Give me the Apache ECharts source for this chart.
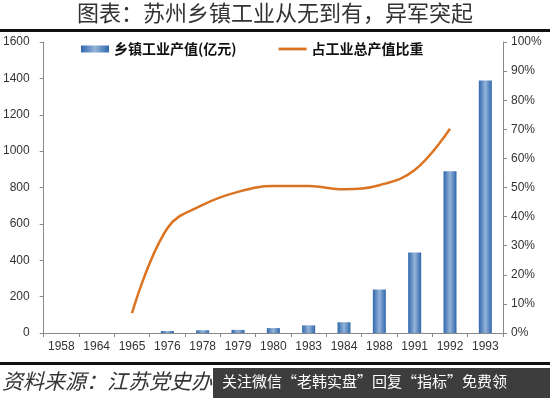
<!DOCTYPE html>
<html>
<head>
<meta charset="utf-8">
<script src="https://cdn.jsdelivr.net/npm/echarts@6/dist/echarts.min.js"></script>
<style>
html, body { margin: 0; padding: 0; background: #fff; }
#main { width: 550px; height: 398px; }
</style>
</head>
<body>
<div id="main"></div>
<script>
var years = ['1958', '1964', '1965', '1976', '1978', '1979', '1980', '1983', '1984', '1988', '1991', '1992', '1993'];
var outputValue = [0, 0, 0, 11, 15, 17, 27, 42, 59, 239, 443, 889, 1388];
var sharePct = [null, null, 6.8, 36, 44, 48.5, 50.5, 50.5, 49.4, 50.8, 56, 70.2, null];
var leftTicks = [0, 1600, 200];
var rightTicks = [0, 100, 10];

var chart = echarts.init(document.getElementById('main'));
var font = '"Noto Sans CJK SC", "Noto Sans", sans-serif';
var option = {
    animation: false,
    textStyle: { fontFamily: font },
    grid: { left: 43, right: 47, top: 42, bottom: 65 },
    legend: {
        top: 37,
        left: 76,
        itemGap: 42,
        itemWidth: 28,
        itemHeight: 7,
        textStyle: { fontSize: 14, fontWeight: 'bold', color: '#111' },
        data: [
            { name: '乡镇工业产值(亿元)', icon: 'rect' },
            { name: '占工业总产值比重', icon: 'path://M0,0h30v3h-30z' }
        ]
    },
    xAxis: {
        type: 'category',
        data: years,
        axisLine: { lineStyle: { color: '#888' } },
        axisTick: { show: true, length: 4, lineStyle: { color: '#888' } },
        axisLabel: { color: '#333', fontSize: 12, margin: 8, fontFamily: 'Liberation Sans' }
    },
    yAxis: [
        {
            type: 'value',
            min: leftTicks[0], max: leftTicks[1], interval: leftTicks[2],
            splitLine: { show: false },
            axisLine: { show: true, lineStyle: { color: '#888' } },
            axisTick: { show: true, length: 4, lineStyle: { color: '#888' } },
            axisLabel: { color: '#333', fontSize: 12, margin: 14, fontFamily: 'Liberation Sans',
                formatter: function (v) { return String(v); } }
        },
        {
            type: 'value',
            min: rightTicks[0], max: rightTicks[1], interval: rightTicks[2],
            position: 'right',
            splitLine: { show: false },
            axisLine: { show: true, lineStyle: { color: '#888' } },
            axisTick: { show: true, length: 4, lineStyle: { color: '#888' } },
            axisLabel: { color: '#333', fontSize: 12, margin: 8, formatter: '{value}%', fontFamily: 'Liberation Sans' }
        }
    ],
    series: [
        {
            name: '乡镇工业产值(亿元)',
            type: 'bar',
            data: outputValue,
            barWidth: 13,
            itemStyle: {
                color: new echarts.graphic.LinearGradient(0, 0, 1, 0, [
                    { offset: 0, color: '#2F67AC' },
                    { offset: 0.5, color: '#94B3DA' },
                    { offset: 1, color: '#2F67AC' }
                ])
            }
        },
        {
            name: '占工业总产值比重',
            type: 'line',
            yAxisIndex: 1,
            data: sharePct,
            smooth: 0.4,
            symbol: 'none',
            lineStyle: { color: '#DB7422', width: 2.5 },
            itemStyle: { color: '#DB7422' }
        }
    ],
    graphic: [
        {
            type: 'text', left: 'center', top: 2,
            style: { text: '图表：苏州乡镇工业从无到有，异军突起', fontSize: 22, fill: '#333', fontFamily: font }
        },
        {
            type: 'rect', left: 0, top: 29,
            shape: { width: 550, height: 3 }, style: { fill: '#111' }
        },
        {
            type: 'rect', left: 0, top: 362,
            shape: { width: 550, height: 3 }, style: { fill: '#111' }
        },
        {
            type: 'text', left: 2, top: 371,
            style: { text: '资料来源：江苏党史办', fontSize: 21, fontStyle: 'italic', fill: '#333', fontFamily: font }
        },
        {
            type: 'rect', left: 213, top: 368,
            shape: { width: 337, height: 30 }, style: { fill: 'rgba(40,40,40,0.9)' }
        },
        {
            type: 'text', left: 222, top: 374,
            style: { text: '关注微信“老韩实盘”回复“指标”免费领', fontSize: 15, fill: '#fff', fontFamily: font }
        }
    ]
};
chart.setOption(option);
</script>
</body>
</html>
